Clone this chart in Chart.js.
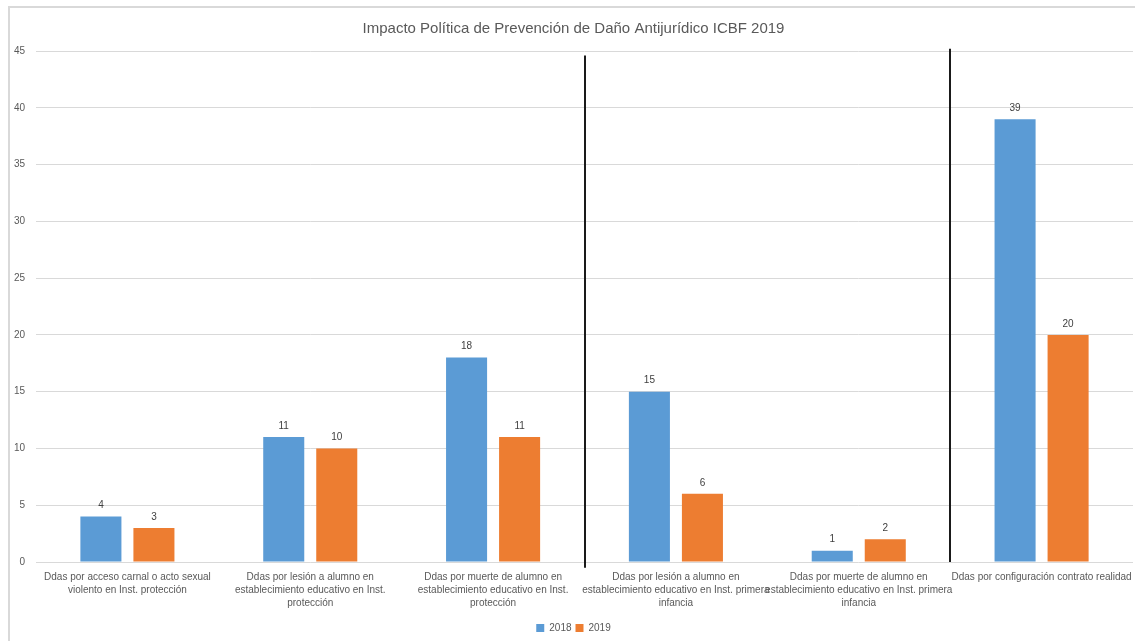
<!DOCTYPE html>
<html>
<head>
<meta charset="utf-8">
<script src="https://cdn.jsdelivr.net/npm/chart.js@4/dist/chart.umd.min.js"></script>
<style>
    html, body { margin: 0; padding: 0; background: #fff; overflow: hidden; }
    body { width: 1135px; height: 641px; position: relative; }
    #frame {
        position: absolute; left: 8px; top: 6px;
        width: 1140px; height: 650px;
        border-left: 2px solid #d9d9d9;
        border-top: 2px solid #d9d9d9;
    }
    #wrap { position: absolute; left: 10px; top: 8px; width: 1125px; height: 633px; }
</style>
</head>
<body>
<div id="frame"></div>
<div id="wrap"><canvas id="grafico"></canvas></div>
<script>
// Datos del gráfico
const categorias = [
    ['Ddas por acceso carnal o acto sexual', 'violento en Inst. protección'],
    ['Ddas por lesión a alumno en', 'establecimiento educativo en Inst.', 'protección'],
    ['Ddas por muerte de alumno en', 'establecimiento educativo en Inst.', 'protección'],
    ['Ddas por lesión a alumno en', 'establecimiento educativo en Inst. primera', 'infancia'],
    ['Ddas por muerte de alumno en', 'establecimiento educativo en Inst. primera', 'infancia'],
    'Ddas por configuración contrato realidad'
];
const series = ['2018', '2019'];
const valores2018 = [4, 11, 18, 15, 1, 39];
const valores2019 = [3, 10, 11, 6, 2, 20];
const titulo = 'Impacto Política de Prevención de Daño Antijurídico ICBF 2019';

const FUENTE = "'Liberation Sans', Arial, sans-serif";
const GRIS = '#595959';

/**
 * Etiquetas de valor encima de cada barra
 */
const etiquetasValor = {
    id: 'etiquetasValor',
    afterDatasetsDraw(chart) {
        const ctx = chart.ctx;
        ctx.save();
        ctx.font = '10px ' + FUENTE;
        ctx.fillStyle = '#404040';
        ctx.textAlign = 'center';
        ctx.textBaseline = 'bottom';
        chart.data.datasets.forEach((ds, i) => {
            chart.getDatasetMeta(i).data.forEach((bar, j) => {
                ctx.fillText(ds.data[j], bar.x, bar.y - 6);
            });
        });
        ctx.restore();
    }
};

/**
 * Líneas verticales negras entre grupos de categorías
 */
const separadores = {
    id: 'separadores',
    afterDraw(chart) {
        const x = chart.scales.x;
        const y = chart.scales.y;
        const ctx = chart.ctx;
        const mitad = (x.getPixelForValue(1) - x.getPixelForValue(0)) / 2;
        const lineas = [
            { despues: 2, desde: 44.6, hasta: -0.5 },
            { despues: 4, desde: 45.2, hasta: 0 }
        ];
        ctx.save();
        ctx.strokeStyle = '#1a1a1a';
        ctx.lineWidth = 2;
        lineas.forEach(l => {
            const px = Math.round(x.getPixelForValue(l.despues) + mitad);
            ctx.beginPath();
            ctx.moveTo(px, y.getPixelForValue(l.desde));
            ctx.lineTo(px, y.getPixelForValue(l.hasta));
            ctx.stroke();
        });
        ctx.restore();
    }
};

new Chart(document.getElementById('grafico'), {
    type: 'bar',
    data: {
        labels: categorias,
        datasets: [
            { label: series[0], data: valores2018, backgroundColor: '#5B9BD5' },
            { label: series[1], data: valores2019, backgroundColor: '#ED7D31' }
        ]
    },
    options: {
        responsive: true,
        maintainAspectRatio: false,
        animation: false,
        categoryPercentage: 0.58,
        barPercentage: 0.774,
        layout: { padding: { left: 4, right: 2, top: 0, bottom: -2 } },
        plugins: {
            title: {
                display: true,
                text: titulo,
                color: GRIS,
                font: { family: FUENTE, size: 15, weight: 'normal' },
                padding: { top: 12, bottom: 13 }
            },
            legend: {
                position: 'bottom',
                labels: {
                    color: GRIS,
                    font: { family: FUENTE, size: 10 },
                    boxWidth: 8,
                    boxHeight: 8,
                    padding: 4
                }
            },
            tooltip: { enabled: false }
        },
        scales: {
            x: {
                grid: { display: false, drawTicks: false },
                border: { display: false },
                ticks: {
                    color: GRIS,
                    font: { family: FUENTE, size: 10, lineHeight: 1.3 },
                    maxRotation: 0,
                    autoSkip: false,
                    padding: 9
                },
                // sin margen extra por el ancho de las etiquetas extremas
                afterFit(scale) {
                    scale.paddingLeft = 0;
                    scale.paddingRight = 0;
                }
            },
            y: {
                min: 0,
                max: 45,
                grid: { color: '#d9d9d9', drawTicks: false },
                border: { display: false },
                ticks: {
                    stepSize: 5,
                    color: GRIS,
                    font: { family: FUENTE, size: 10 },
                    padding: 11
                },
                afterFit(scale) {
                    scale.width = 22;
                }
            }
        }
    },
    plugins: [etiquetasValor, separadores]
});
</script>
</body>
</html>
